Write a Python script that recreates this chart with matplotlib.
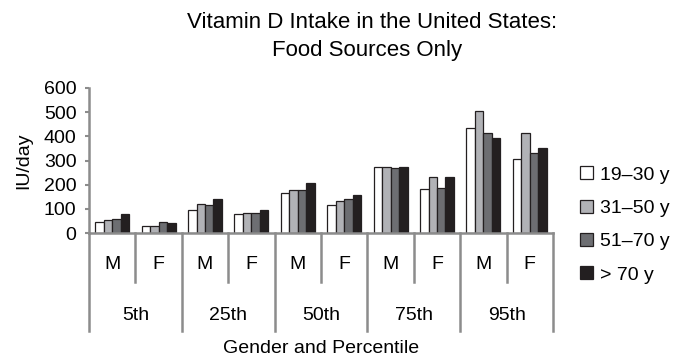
import matplotlib.pyplot as plt
import matplotlib.transforms as mtransforms
import numpy as np
from matplotlib.patches import Patch

plt.rcParams['font.family'] = ['Liberation Sans', 'DejaVu Sans']

# Data (IU/day)
percentiles = ['5th', '25th', '50th', '75th', '95th']
genders = ['M', 'F']
age_groups = ['19\u201330 y', '31\u201350 y', '51\u201370 y', '> 70 y']
age_19_30 = [47, 29, 96, 77, 165, 114, 275, 183, 436, 307]
age_31_50 = [52, 29, 121, 83, 176, 132, 275, 231, 503, 413]
age_51_70 = [59, 47, 114, 83, 176, 140, 268, 188, 413, 330]
age_70_up = [77, 41, 140, 96, 208, 158, 275, 232, 395, 351]
colors = ['#ffffff', '#b1b2b6', '#6d6e72', '#231f20']

fig = plt.figure(figsize=(6.73, 3.61), dpi=100)
ax = fig.add_axes([89 / 673, 128 / 361, 464 / 673, 145 / 361])

x = np.arange(len(age_19_30))
w = 0.183
series = [age_19_30, age_31_50, age_51_70, age_70_up]
for i, (vals, c) in enumerate(zip(series, colors)):
    ax.bar(x + (i - 1.5) * w, vals, w, color=c, edgecolor='#231f20', linewidth=0.9, zorder=2)

ax.set_xlim(-0.5, 9.5)
ax.set_ylim(0, 600)
ax.set_yticks(range(0, 601, 100))
ax.set_xticks([])
ax.tick_params(axis='y', labelsize=14, length=3, width=1.5, color='#8c8c8c', pad=6)
for s in ['top', 'right']:
    ax.spines[s].set_visible(False)
for s in ['left', 'bottom']:
    ax.spines[s].set_color('#8c8c8c')
    ax.spines[s].set_linewidth(1.8)
ax.set_ylabel('IU/day', fontsize=14, labelpad=8)

# Two-level category axis below the plot
trans = mtransforms.blended_transform_factory(ax.transData, ax.transAxes)
for k in range(len(x) + 1):
    bottom = -0.676 if k % 2 == 0 else -0.338
    ax.plot([k - 0.5, k - 0.5], [0, bottom], color='#8c8c8c', lw=1.8,
            transform=trans, clip_on=False)
for k in x:
    ax.text(k, -0.22, genders[k % 2], transform=trans, ha='center', va='center', fontsize=14)
for j, p in enumerate(percentiles):
    ax.text(2 * j + 0.5, -0.566, p, transform=trans, ha='center', va='center', fontsize=14)
ax.text(4.5, -0.795, 'Gender and Percentile', transform=trans, ha='center', va='center', fontsize=14)

fig.text(372 / 673, 1 - 27.5 / 361, 'Vitamin D Intake in the United States:',
         ha='center', va='baseline', fontsize=16)
fig.text(367 / 673, 1 - 56 / 361, 'Food Sources Only', ha='center', va='baseline', fontsize=16)

handles = [Patch(facecolor=c, edgecolor='#231f20', linewidth=0.9) for c in colors]
fig.legend(handles, age_groups, loc='center left', bbox_to_anchor=(580 / 673, 1 - 225 / 361),
           frameon=False, fontsize=14, handlelength=0.65, handleheight=0.65,
           handletextpad=0.4, labelspacing=0.82, borderpad=0, borderaxespad=0)

fig.savefig('out.png', dpi=100)
